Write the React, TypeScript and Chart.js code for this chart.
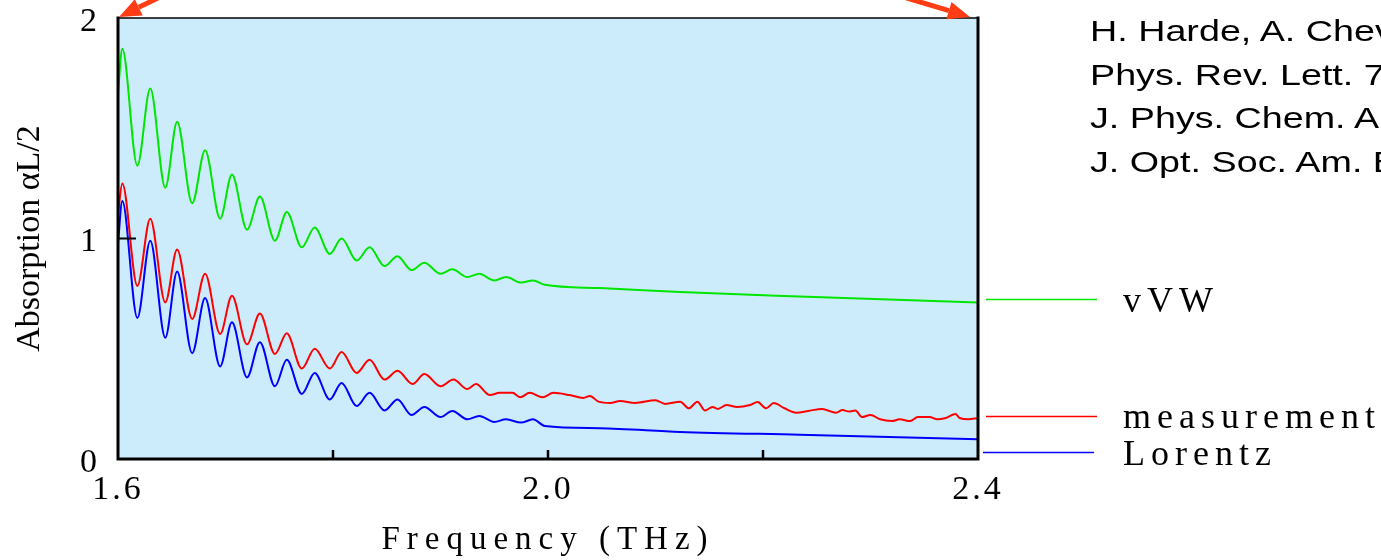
import React, { useEffect, useRef } from 'react';
import { Chart, registerables } from 'chart.js';

Chart.register(...registerables);

// Frequency grid (THz) of the two model curves
const modelFreq = [
  1.600, 1.604, 1.618, 1.630, 1.644, 1.655, 1.669, 1.681, 1.695, 1.706,
  1.720, 1.732, 1.746, 1.757, 1.771, 1.783, 1.797, 1.808, 1.822, 1.834,
  1.848, 1.860, 1.873, 1.885, 1.900, 1.911, 1.925, 1.936, 1.950, 1.961,
  1.975, 1.986, 1.997, 2.048, 2.123, 2.234, 2.400,
];

// van Vleck-Weisskopf line shape (green)
const vvwValues = [
  1.66, 1.86, 1.33, 1.68, 1.23, 1.53, 1.16, 1.40, 1.09, 1.29,
  1.04, 1.19, 0.99, 1.12, 0.96, 1.05, 0.93, 1.00, 0.90, 0.96,
  0.875, 0.92, 0.857, 0.89, 0.84, 0.86, 0.825, 0.84, 0.81, 0.825,
  0.80, 0.81, 0.79, 0.775, 0.757, 0.737, 0.71,
];

// Lorentz line shape (blue)
const lorentzValues = [
  0.98, 1.17, 0.64, 0.99, 0.55, 0.85, 0.48, 0.73, 0.42, 0.62,
  0.37, 0.53, 0.33, 0.45, 0.295, 0.39, 0.27, 0.345, 0.24, 0.30,
  0.22, 0.27, 0.20, 0.236, 0.19, 0.218, 0.18, 0.195, 0.168, 0.18,
  0.165, 0.18, 0.15, 0.14, 0.123, 0.11, 0.09,
];

// Measurement (red)
const measFreq = [
  1.600, 1.604, 1.618, 1.630, 1.644, 1.655, 1.669, 1.681, 1.695, 1.706,
  1.720, 1.732, 1.746, 1.757, 1.771, 1.783, 1.797, 1.808, 1.822, 1.834,
  1.848, 1.860, 1.874, 1.885, 1.900, 1.912, 1.925, 1.933, 1.946, 1.955,
  1.967, 1.974, 1.983, 1.995, 2.005, 2.020, 2.033, 2.039, 2.047, 2.058,
  2.067, 2.081, 2.100, 2.109, 2.123, 2.131, 2.139, 2.146, 2.153, 2.158,
  2.166, 2.176, 2.188, 2.195, 2.203, 2.210, 2.220, 2.231, 2.242, 2.255,
  2.268, 2.274, 2.280, 2.286, 2.292, 2.300, 2.309, 2.320, 2.327, 2.337,
  2.344, 2.355, 2.362, 2.370, 2.379, 2.383, 2.391, 2.400,
];
const measValues = [
  1.11, 1.25, 0.785, 1.09, 0.71, 0.95, 0.635, 0.84, 0.567, 0.74,
  0.52, 0.66, 0.476, 0.57, 0.41, 0.50, 0.41, 0.485, 0.39, 0.45,
  0.36, 0.40, 0.34, 0.385, 0.33, 0.36, 0.317, 0.34, 0.29, 0.30,
  0.30, 0.28, 0.30, 0.28, 0.30, 0.29, 0.277, 0.286, 0.26, 0.254,
  0.263, 0.254, 0.267, 0.25, 0.26, 0.23, 0.26, 0.22, 0.236, 0.227,
  0.245, 0.236, 0.245, 0.258, 0.23, 0.254, 0.23, 0.21, 0.218, 0.227,
  0.21, 0.222, 0.215, 0.22, 0.19, 0.20, 0.18, 0.172, 0.18, 0.172,
  0.19, 0.19, 0.18, 0.186, 0.204, 0.186, 0.18, 0.186,
];

const xTickValues = [1.6, 1.8, 2.0, 2.2, 2.4];
const xTickLabels = ['1.6', '', '2.0', '', '2.4'];
const yTickValues = [0, 1, 2];
const yTickLabels = ['0', '1', '2'];
const xInnerTicks = [1.8, 2.0, 2.2];
const yInnerTicks = [1];

const seriesNames = ['vVW', 'measurement', 'Lorentz'];
const seriesColors = ['#00e600', '#ff0000', '#0000ff'];
const legendValues = [0.725, 0.195, 0.03];

const citationLines = [
  'H. Harde, A. Chev',
  'Phys. Rev. Lett. 7',
  'J. Phys. Chem. A',
  'J. Opt. Soc. Am. B',
];

const SERIF = '"Liberation Serif", "Times New Roman", serif';
const SANS = '"Liberation Sans", Arial, sans-serif';

const toPts = (xs: number[], ys: number[]) => xs.map((x, i) => ({ x, y: ys[i] }));

const spacingPlugin = {
  id: 'letterSpacing',
  beforeDraw(chart: any) {
    const patch = (scale: any, labelSp: string, titleSp: string) => {
      if (!scale || scale.__patched) return;
      scale.__patched = true;
      const dl = scale.drawLabels.bind(scale);
      const dt = scale.drawTitle.bind(scale);
      scale.drawLabels = (a: any) => {
        const c = scale.ctx;
        c.save();
        c.letterSpacing = labelSp;
        dl(a);
        c.restore();
      };
      scale.drawTitle = () => {
        const c = scale.ctx;
        c.save();
        c.letterSpacing = titleSp;
        dt();
        c.restore();
      };
    };
    patch(chart.scales.x, '3px', '7px');
    patch(chart.scales.y, '0px', '0px');
  },
};

const framePlugin = {
  id: 'frame',
  beforeDatasetsDraw(chart: any) {
    const { ctx, chartArea: a } = chart;
    ctx.save();
    ctx.fillStyle = 'rgb(204,236,252)';
    ctx.fillRect(a.left, a.top, a.right - a.left, a.bottom - a.top);
    ctx.restore();
  },
  afterDatasetsDraw(chart: any) {
    const { ctx, chartArea: a, scales } = chart;
    const xs = scales.x;
    const ys = scales.y;
    ctx.save();
    ctx.strokeStyle = '#000';
    ctx.lineCap = 'square';
    // top (thin)
    ctx.lineWidth = 1.5;
    ctx.beginPath();
    ctx.moveTo(a.left, a.top);
    ctx.lineTo(a.right, a.top);
    ctx.stroke();
    // left, bottom, right (thick)
    ctx.lineWidth = 3;
    ctx.beginPath();
    ctx.moveTo(a.left, a.top);
    ctx.lineTo(a.left, a.bottom);
    ctx.lineTo(a.right, a.bottom);
    ctx.lineTo(a.right, a.top);
    ctx.stroke();
    // inner ticks
    ctx.lineCap = 'butt';
    ctx.lineWidth = 2.5;
    xInnerTicks.forEach((v) => {
      const px = xs.getPixelForValue(v);
      ctx.beginPath();
      ctx.moveTo(px, a.bottom);
      ctx.lineTo(px, a.bottom - 9);
      ctx.stroke();
    });
    ctx.lineWidth = 2;
    yInnerTicks.forEach((v) => {
      const py = ys.getPixelForValue(v);
      ctx.beginPath();
      ctx.moveTo(a.left, py);
      ctx.lineTo(a.left + 18, py);
      ctx.stroke();
    });
    ctx.restore();
  },
  afterDraw(chart: any) {
    const { ctx, chartArea: a, scales } = chart;
    const ys = scales.y;
    ctx.save();
    // legend lines
    ctx.lineWidth = 1.5;
    seriesColors.forEach((c, i) => {
      const py = Math.round(ys.getPixelForValue(legendValues[i])) + 0.5;
      const x0 = a.right + (i === 2 ? 5 : 8);
      ctx.strokeStyle = c;
      ctx.beginPath();
      ctx.moveTo(x0, py);
      ctx.lineTo(x0 + 111, py);
      ctx.stroke();
    });
    // arrows
    const arrow = (x1: number, y1: number, x2: number, y2: number) => {
      const ang = Math.atan2(y2 - y1, x2 - x1);
      const hl = 22;
      const hw = 9;
      const bx = x2 - hl * Math.cos(ang);
      const by = y2 - hl * Math.sin(ang);
      ctx.strokeStyle = '#ff3c14';
      ctx.fillStyle = '#ff3c14';
      ctx.lineWidth = 5;
      ctx.beginPath();
      ctx.moveTo(x1, y1);
      ctx.lineTo(bx, by);
      ctx.stroke();
      ctx.beginPath();
      ctx.moveTo(x2, y2);
      ctx.lineTo(bx + hw * Math.sin(ang), by - hw * Math.cos(ang));
      ctx.lineTo(bx - hw * Math.sin(ang), by + hw * Math.cos(ang));
      ctx.closePath();
      ctx.fill();
    };
    arrow(a.left + 44, -4, a.left + 1, a.top - 1);
    arrow(a.right - 78, -4, a.right - 8, a.top - 1);
    ctx.restore();
  },
};

export default function App() {
  const ref = useRef<HTMLCanvasElement | null>(null);

  useEffect(() => {
    if (!ref.current) return;
    const chart = new Chart(ref.current, {
      type: 'line',
      data: {
        datasets: [
          {
            label: seriesNames[0],
            data: toPts(modelFreq, vvwValues),
            borderColor: seriesColors[0],
            borderWidth: 2,
            pointRadius: 0,
            cubicInterpolationMode: 'monotone',
            fill: false,
          },
          {
            label: seriesNames[1],
            data: toPts(measFreq, measValues),
            borderColor: seriesColors[1],
            borderWidth: 2,
            pointRadius: 0,
            cubicInterpolationMode: 'monotone',
            fill: false,
          },
          {
            label: seriesNames[2],
            data: toPts(modelFreq, lorentzValues),
            borderColor: seriesColors[2],
            borderWidth: 2,
            pointRadius: 0,
            cubicInterpolationMode: 'monotone',
            fill: false,
          },
        ],
      },
      options: {
        animation: false,
        responsive: false,
        devicePixelRatio: 1,
        layout: { padding: { top: 18, right: 403, left: 0, bottom: 0 } },
        plugins: { legend: { display: false }, tooltip: { enabled: false } },
        scales: {
          x: {
            type: 'linear',
            min: 1.6,
            max: 2.4,
            afterBuildTicks: (s: any) => {
              s.ticks = xTickValues.map((v) => ({ value: v }));
            },
            afterFit: (s: any) => {
              s.height = 101;
              s.paddingLeft = 0;
              s.paddingRight = 0;
            },
            ticks: {
              autoSkip: false,
              maxRotation: 0,
              minRotation: 0,
              padding: 14,
              color: '#000',
              font: { family: SERIF, size: 34, lineHeight: 1 },
              callback: (v: any) => {
                const i = xTickValues.findIndex((t) => Math.abs(t - Number(v)) < 1e-6);
                return i >= 0 ? xTickLabels[i] : '';
              },
            },
            grid: { display: false, drawTicks: false },
            border: { display: false },
            title: {
              display: true,
              text: 'Frequency (THz)',
              color: '#000',
              font: { family: SERIF, size: 33 },
              padding: { top: 0, bottom: 0 },
            },
          },
          y: {
            type: 'linear',
            min: 0,
            max: 2,
            afterBuildTicks: (s: any) => {
              s.ticks = yTickValues.map((v) => ({ value: v }));
            },
            afterFit: (s: any) => {
              s.width = 118;
              s.paddingTop = 0;
              s.paddingBottom = 0;
            },
            ticks: {
              autoSkip: false,
              padding: 21,
              labelOffset: 4,
              color: '#000',
              font: { family: SERIF, size: 34, lineHeight: 1 },
              callback: (v: any) => {
                const i = yTickValues.findIndex((t) => Math.abs(t - Number(v)) < 1e-6);
                return i >= 0 ? yTickLabels[i] : '';
              },
            },
            grid: { display: false, drawTicks: false },
            border: { display: false },
            title: {
              display: true,
              text: 'Absorption αL/2',
              color: '#000',
              font: { family: SERIF, size: 34 },
              padding: { top: 10, bottom: 0 },
            },
          },
        },
      } as any,
      plugins: [spacingPlugin, framePlugin],
    });
    return () => chart.destroy();
  }, []);

  const legendTops = [282, 398, 435];

  return (
    <div
      style={{
        position: 'fixed',
        left: 0,
        top: 0,
        width: 1381,
        height: 560,
        overflow: 'hidden',
        background: '#fff',
      }}
    >
      <canvas
        ref={ref}
        width={1381}
        height={560}
        style={{ position: 'absolute', left: 0, top: 0, width: 1381, height: 560 }}
      />
      {citationLines.map((t, i) => (
        <div
          key={t}
          style={{
            position: 'absolute',
            left: 1090,
            top: 17 + i * 43.7,
            fontFamily: SANS,
            fontSize: 29,
            lineHeight: '29px',
            whiteSpace: 'nowrap',
            color: '#000',
            transform: 'scaleX(1.3)',
            transformOrigin: '0 0',
          }}
        >
          {t}
        </div>
      ))}
      {seriesNames.map((n, i) => (
        <div
          key={n}
          style={{
            position: 'absolute',
            left: 1123,
            top: legendTops[i],
            fontFamily: SERIF,
            fontSize: 36,
            lineHeight: '36px',
            letterSpacing: '6px',
            whiteSpace: 'nowrap',
            color: '#000',
          }}
        >
          {n}
        </div>
      ))}
    </div>
  );
}
